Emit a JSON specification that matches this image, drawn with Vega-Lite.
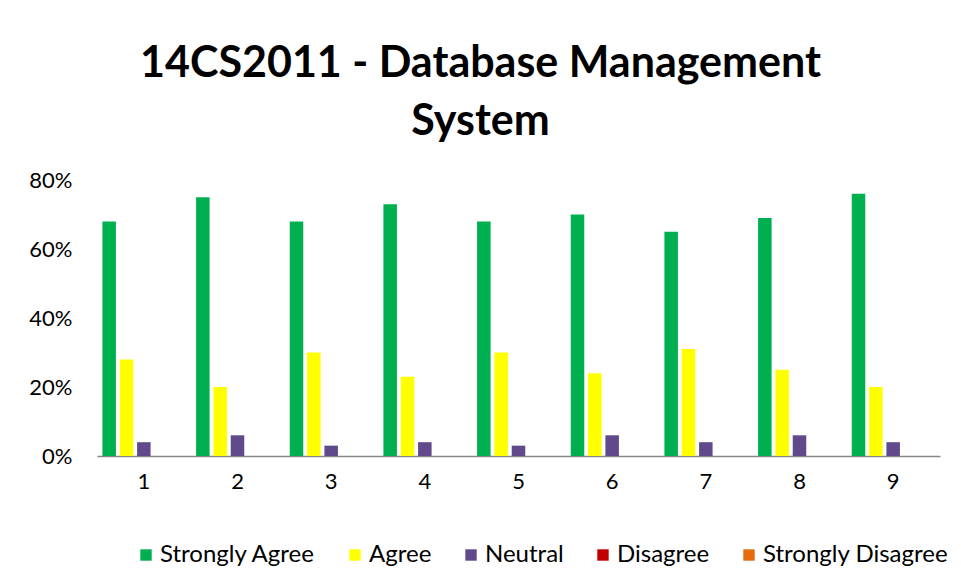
{
  "$schema": "https://vega.github.io/schema/vega-lite/v6.json",
  "autosize": {"type": "none"},
  "padding": {"left": 97, "top": 180, "right": 21, "bottom": 128},
  "width": 843,
  "height": 276,
  "background": "white",
  "title": {
    "text": ["14CS2011 - Database Management", "System"],
    "font": "Lato",
    "fontSize": 43,
    "fontWeight": "bold",
    "color": "#000000",
    "lineHeight": 58,
    "anchor": "middle",
    "dx": -38,
    "offset": 25
  },
  "data": {
    "values": [
      {"q": "1", "r": "Strongly Agree", "v": 0.68}, {"q": "1", "r": "Agree", "v": 0.28}, {"q": "1", "r": "Neutral", "v": 0.04}, {"q": "1", "r": "Disagree", "v": 0}, {"q": "1", "r": "Strongly Disagree", "v": 0},
      {"q": "2", "r": "Strongly Agree", "v": 0.75}, {"q": "2", "r": "Agree", "v": 0.20}, {"q": "2", "r": "Neutral", "v": 0.06}, {"q": "2", "r": "Disagree", "v": 0}, {"q": "2", "r": "Strongly Disagree", "v": 0},
      {"q": "3", "r": "Strongly Agree", "v": 0.68}, {"q": "3", "r": "Agree", "v": 0.30}, {"q": "3", "r": "Neutral", "v": 0.03}, {"q": "3", "r": "Disagree", "v": 0}, {"q": "3", "r": "Strongly Disagree", "v": 0},
      {"q": "4", "r": "Strongly Agree", "v": 0.73}, {"q": "4", "r": "Agree", "v": 0.23}, {"q": "4", "r": "Neutral", "v": 0.04}, {"q": "4", "r": "Disagree", "v": 0}, {"q": "4", "r": "Strongly Disagree", "v": 0},
      {"q": "5", "r": "Strongly Agree", "v": 0.68}, {"q": "5", "r": "Agree", "v": 0.30}, {"q": "5", "r": "Neutral", "v": 0.03}, {"q": "5", "r": "Disagree", "v": 0}, {"q": "5", "r": "Strongly Disagree", "v": 0},
      {"q": "6", "r": "Strongly Agree", "v": 0.70}, {"q": "6", "r": "Agree", "v": 0.24}, {"q": "6", "r": "Neutral", "v": 0.06}, {"q": "6", "r": "Disagree", "v": 0}, {"q": "6", "r": "Strongly Disagree", "v": 0},
      {"q": "7", "r": "Strongly Agree", "v": 0.65}, {"q": "7", "r": "Agree", "v": 0.31}, {"q": "7", "r": "Neutral", "v": 0.04}, {"q": "7", "r": "Disagree", "v": 0}, {"q": "7", "r": "Strongly Disagree", "v": 0},
      {"q": "8", "r": "Strongly Agree", "v": 0.69}, {"q": "8", "r": "Agree", "v": 0.25}, {"q": "8", "r": "Neutral", "v": 0.06}, {"q": "8", "r": "Disagree", "v": 0}, {"q": "8", "r": "Strongly Disagree", "v": 0},
      {"q": "9", "r": "Strongly Agree", "v": 0.76}, {"q": "9", "r": "Agree", "v": 0.20}, {"q": "9", "r": "Neutral", "v": 0.04}, {"q": "9", "r": "Disagree", "v": 0}, {"q": "9", "r": "Strongly Disagree", "v": 0}
    ]
  },
  "mark": {"type": "bar"},
  "encoding": {
    "x": {
      "field": "q",
      "type": "nominal",
      "scale": {"paddingInner": 0.075, "paddingOuter": 0.0375},
      "axis": {
        "title": null,
        "labelAngle": 0,
        "labelFont": "Lato",
        "labelFontSize": 22,
        "labelColor": "#000000",
        "labelPadding": 15,
        "ticks": false,
        "domainColor": "#868686",
        "domainWidth": 1.5,
        "grid": false
      }
    },
    "xOffset": {
      "field": "r",
      "type": "nominal",
      "sort": ["Strongly Agree", "Agree", "Neutral", "Disagree", "Strongly Disagree"],
      "scale": {"paddingInner": 0.22, "paddingOuter": 0.11}
    },
    "y": {
      "field": "v",
      "type": "quantitative",
      "scale": {"domain": [0, 0.8], "nice": false},
      "axis": {
        "title": null,
        "format": ".0%",
        "values": [0, 0.2, 0.4, 0.6, 0.8],
        "labelFont": "Lato",
        "labelFontSize": 22,
        "labelColor": "#000000",
        "labelPadding": 25,
        "ticks": false,
        "domain": false,
        "grid": false
      }
    },
    "color": {
      "field": "r",
      "type": "nominal",
      "scale": {
        "domain": ["Strongly Agree", "Agree", "Neutral", "Disagree", "Strongly Disagree"],
        "range": ["#00B050", "#FFFF00", "#604A8B", "#C00000", "#E46C0A"]
      },
      "legend": {
        "title": null,
        "orient": "none",
        "direction": "horizontal",
        "legendX": 37,
        "legendY": 363,
        "symbolType": "square",
        "symbolSize": 130,
        "symbolStrokeWidth": 0,
        "labelFont": "Lato",
        "labelFontSize": 24,
        "labelColor": "#000000",
        "labelOffset": 2,
        "labelLimit": 0,
        "columnPadding": 27,
        "padding": 0
      }
    }
  },
  "config": {"view": {"stroke": null}}
}
